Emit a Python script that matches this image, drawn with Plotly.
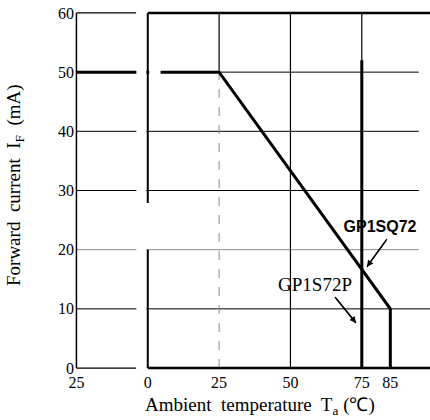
import plotly.graph_objects as go

# ---- data ----
x_tick_vals = [-25, 0, 25, 50, 75, 85]
x_tick_text = ["25", "0", "25", "50", "75", "85"]
y_tick_vals = [0, 10, 20, 30, 40, 50, 60]

gp1sq72_temp = [-25, 25, 85, 85]
gp1sq72_current = [50, 50, 10, 0]

gp1s72p_temp = [75, 75]
gp1s72p_current = [52, 0]

grid_x = [25, 50, 75]
grid_y = [10, 20, 30, 40]
grid_end = 95
axis_break = [-4, 0]

# series labels and their arrows (data units)
label_text = ["<b>GP1SQ72</b>", "GP1S72P"]
label_x = [81.4, 58.6]
label_y = [23.7, 13.9]
arrow_tail_x = [83.8, 65.6]
arrow_tail_y = [21.8, 12.0]
arrow_head_x = [76.8, 73.0]
arrow_head_y = [17.1, 7.6]

SERIF = "Liberation Serif"
SANS = "Liberation Sans"

fig = go.Figure()

fig.add_trace(go.Scatter(x=gp1sq72_temp, y=gp1sq72_current, mode="lines",
                         line=dict(color="black", width=3), showlegend=False,
                         hoverinfo="skip"))
fig.add_trace(go.Scatter(x=gp1s72p_temp, y=gp1s72p_current, mode="lines",
                         line=dict(color="black", width=3), showlegend=False,
                         hoverinfo="skip"))
# series labels as text traces
fig.add_trace(go.Scatter(x=[label_x[0]], y=[label_y[0]], mode="text", text=[label_text[0]],
                         textposition="middle center",
                         textfont=dict(family=SANS, size=16, color="black"),
                         showlegend=False, hoverinfo="skip"))
fig.add_trace(go.Scatter(x=[label_x[1]], y=[label_y[1]], mode="text", text=[label_text[1]],
                         textposition="middle center",
                         textfont=dict(family=SERIF, size=19, color="black"),
                         showlegend=False, hoverinfo="skip"))
# arrow shafts
for tx, ty, hx, hy in zip(arrow_tail_x, arrow_tail_y, arrow_head_x, arrow_head_y):
    fig.add_trace(go.Scatter(x=[tx, hx], y=[ty, hy], mode="lines",
                             line=dict(color="black", width=1.3),
                             showlegend=False, hoverinfo="skip"))

shapes = []
for gy in grid_y:
    color = "#8a8a8a" if gy == 20 else "black"
    end = 99 if gy == 10 else grid_end
    shapes.append(dict(type="line", xref="x", yref="y", x0=-25, x1=end, y0=gy, y1=gy,
                       line=dict(color=color, width=1), layer="below"))
shapes.append(dict(type="line", xref="x", yref="y", x0=25, x1=grid_end, y0=50, y1=50,
                   line=dict(color="black", width=1), layer="below"))
for gx in grid_x:
    if gx == 25:
        shapes.append(dict(type="line", xref="x", yref="y", x0=gx, x1=gx, y0=50, y1=60,
                           line=dict(color="black", width=1.2), layer="below"))
        shapes.append(dict(type="line", xref="x", yref="y", x0=gx, x1=gx, y0=0, y1=50,
                           line=dict(color="#8a8a8a", width=1, dash="dash"), layer="below"))
    else:
        shapes.append(dict(type="line", xref="x", yref="y", x0=gx, x1=gx, y0=0, y1=60,
                           line=dict(color="black", width=1.2), layer="below"))

# left panel frame
shapes.append(dict(type="line", xref="x", yref="y", x0=-25, x1=-25, y0=0, y1=60,
                   line=dict(color="black", width=1.5)))
shapes.append(dict(type="line", xref="x", yref="y", x0=-25, x1=axis_break[0], y0=60, y1=60,
                   line=dict(color="black", width=1.2)))
shapes.append(dict(type="line", xref="x", yref="y", x0=-25, x1=axis_break[0], y0=0, y1=0,
                   line=dict(color="black", width=1.2)))
# axis break (blank strip)
shapes.append(dict(type="rect", xref="x", yref="y", x0=axis_break[0], x1=axis_break[1] - 0.5,
                   y0=-1, y1=61, fillcolor="white", line=dict(width=0), layer="above"))
shapes.append(dict(type="rect", xref="x", yref="y", x0=0.5, x1=4.5,
                   y0=48.8, y1=51.2, fillcolor="white", line=dict(width=0), layer="above"))
# right panel frame
shapes.append(dict(type="line", xref="x", yref="y", x0=0, x1=110, y0=60, y1=60,
                   line=dict(color="black", width=2.5)))
shapes.append(dict(type="line", xref="x", yref="y", x0=0, x1=110, y0=0, y1=0,
                   line=dict(color="black", width=2.5)))
shapes.append(dict(type="line", xref="x", yref="y", x0=0, x1=0, y0=27.9, y1=60,
                   line=dict(color="black", width=2)))
shapes.append(dict(type="line", xref="x", yref="y", x0=0, x1=0, y0=0, y1=20,
                   line=dict(color="black", width=2)))

annotations = [
    dict(xref="paper", yref="paper", x=(260 - 75) / 355, y=(371 - 406) / 361,
         text="Ambient  temperature  T<sub>a</sub> (℃)", showarrow=False,
         font=dict(family=SERIF, size=19, color="black"), xanchor="center", yanchor="middle"),
    dict(xref="paper", yref="paper", x=(15 - 75) / 355, y=(371 - 185) / 361,
         text="Forward  current  I<sub>F</sub>  (mA)", showarrow=False, textangle=-90,
         font=dict(family=SERIF, size=19, color="black"), xanchor="center", yanchor="middle"),
]
# arrowheads (pixel offsets toward the tails)
for tx, ty, hx, hy in zip(arrow_tail_x, arrow_tail_y, arrow_head_x, arrow_head_y):
    annotations.append(dict(xref="x", yref="y", x=hx, y=hy,
                            ax=(tx - hx) * 2.854, ay=-(ty - hy) * 5.918,
                            text="", showarrow=True, arrowhead=2, arrowsize=1,
                            arrowwidth=1.3, arrowcolor="black", standoff=0,
                            startstandoff=0))

fig.update_layout(
    width=430, height=420,
    margin=dict(l=75, r=0, t=10, b=49),
    paper_bgcolor="white", plot_bgcolor="white",
    shapes=shapes, annotations=annotations,
    showlegend=False,
    xaxis=dict(range=[-25.5, 98.9], showgrid=False, zeroline=False, showline=False,
               tickvals=x_tick_vals, ticktext=x_tick_text, ticks="",
               tickfont=dict(family=SERIF, size=16, color="black")),
    yaxis=dict(range=[-0.5, 60.5], showgrid=False, zeroline=False, showline=False,
               tickvals=y_tick_vals, ticks="",
               tickfont=dict(family=SERIF, size=16, color="black")),
)

fig.write_html("out.html")
